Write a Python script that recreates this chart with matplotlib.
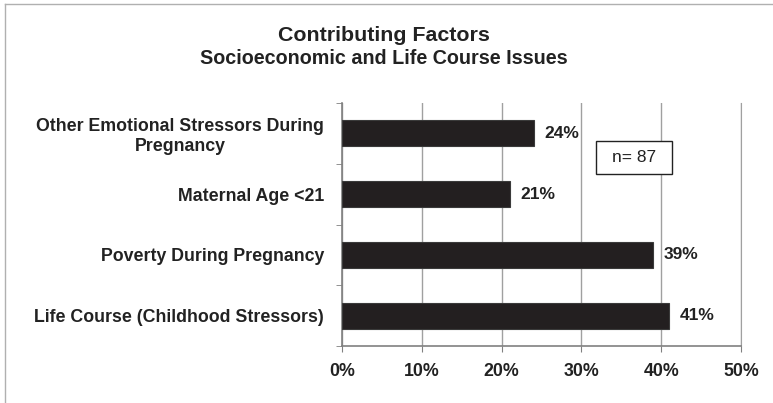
import matplotlib
matplotlib.use("Agg")
import matplotlib.pyplot as plt
from matplotlib.lines import Line2D
from matplotlib.patches import Rectangle
import numpy as np

# chart data
categories = ["Other Emotional Stressors During\nPregnancy", "Maternal Age <21",
              "Poverty During Pregnancy", "Life Course (Childhood Stressors)"]
values = [24, 21, 39, 41]
x_ticks = [0, 10, 20, 30, 40, 50]
x_labels = ["0%", "10%", "20%", "30%", "40%", "50%"]
note = "n= 87"

plt.rcParams['font.family'] = ['Liberation Sans', 'DejaVu Sans']

fig = plt.figure(figsize=(7.73, 4.03), dpi=100)
ax = fig.add_axes([0.4424, 0.1414, 0.5162, 0.603])

y = np.arange(len(categories))
ax.barh(y, values, height=0.43, color="#231f20", edgecolor="#3a3a3a", linewidth=0.8, zorder=3)
for yi, v in zip(y, values):
    ax.text(v + 1.3, yi, f"{v}%", va="center", ha="left", fontsize=12.5, fontweight="bold", color="#222222")

ax.set_xlim(0, 50)
ax.set_ylim(3.5, -0.5)
ax.set_xticks(x_ticks)
ax.set_xticklabels(x_labels, fontsize=12.8, fontweight="bold", color="#222222")
ax.set_yticks(y)
ax.set_yticklabels(categories, fontsize=12.8, fontweight="bold", color="#222222")
for lab in ax.get_yticklabels():
    lab.set_multialignment("center")
ax.tick_params(axis="y", which="major", length=0, pad=13)
ax.set_yticks(np.arange(-0.5, 4, 1), minor=True)
ax.tick_params(axis="y", which="minor", length=4, color="#808080", direction="out")
ax.tick_params(axis="x", length=4, color="#808080", pad=8)

ax.grid(axis="x", color="#a0a0a0", linewidth=1, zorder=0)
ax.spines["top"].set_visible(False)
ax.spines["right"].set_color("#a0a0a0")
ax.spines["left"].set_color("#808080")
ax.spines["bottom"].set_color("#808080")
ax.spines["left"].set_linewidth(1.2)
ax.spines["bottom"].set_linewidth(1.2)

# n box
bw, bh = 0.19, 0.136
ax.add_patch(Rectangle((0.732 - bw / 2, 0.774 - bh / 2), bw, bh, transform=ax.transAxes,
                       facecolor="white", edgecolor="#222222", linewidth=1, zorder=5))
ax.text(0.732, 0.774, note, transform=ax.transAxes, ha="center", va="center", fontsize=12.5,
        color="#222222", zorder=6)

fig.text(0.497, 0.898, "Contributing Factors", ha="center", va="baseline", fontsize=15.4, fontweight="bold", color="#222222")
fig.text(0.497, 0.841, "Socioeconomic and Life Course Issues", ha="center", va="baseline", fontsize=14.2, fontweight="bold", color="#222222")

# thin frame on top and left
fig.add_artist(Line2D([0.006, 1.0], [0.991, 0.991], transform=fig.transFigure, color="#b0b0b0", linewidth=1))
fig.add_artist(Line2D([0.006, 0.006], [0.0, 0.991], transform=fig.transFigure, color="#b0b0b0", linewidth=1))

fig.savefig("out.png", dpi=100)
